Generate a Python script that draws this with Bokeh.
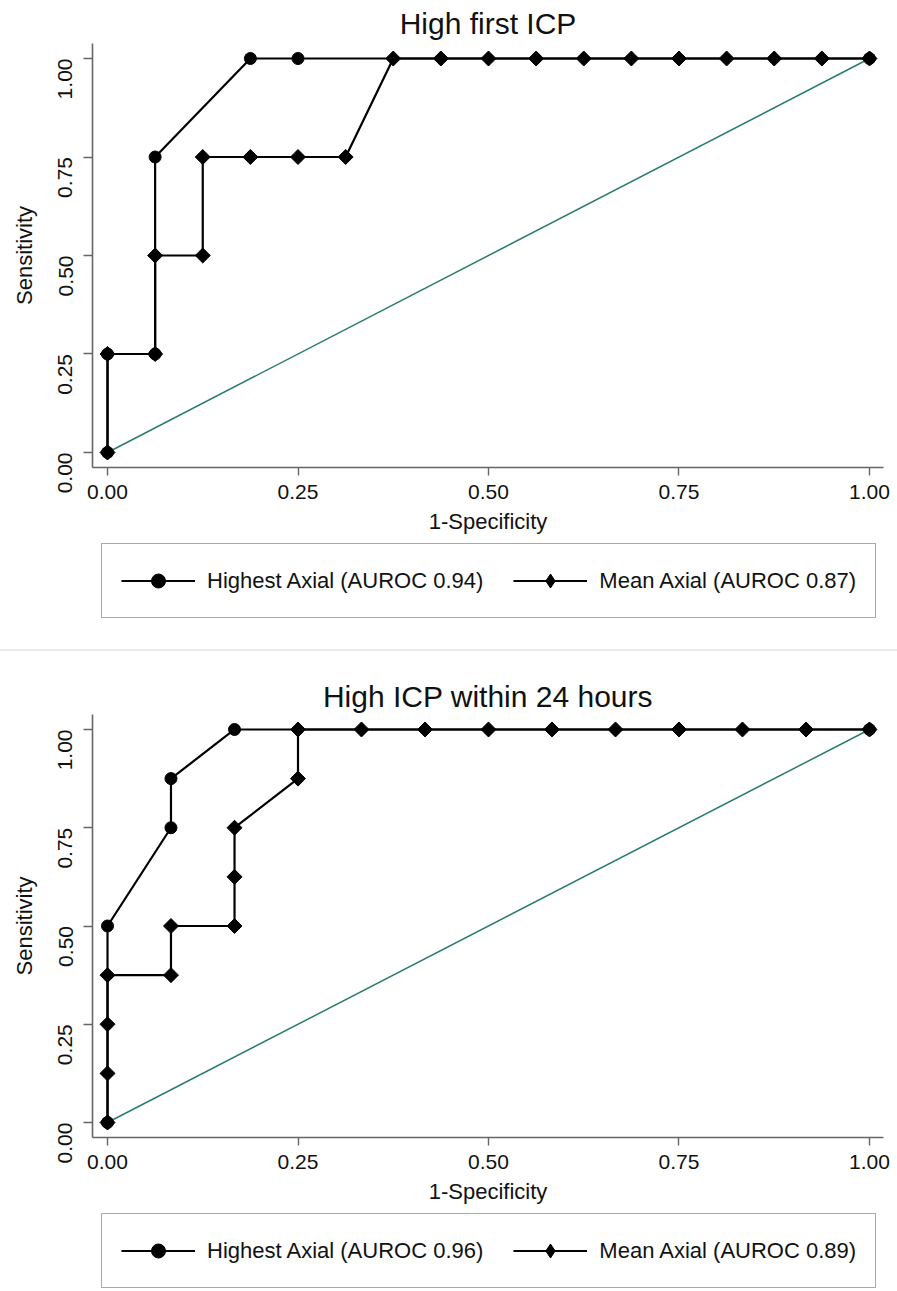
import math
from bokeh.plotting import figure
from bokeh.models import Range1d, FixedTicker, Legend, LegendItem, Div
from bokeh.layouts import column
from bokeh.embed import file_html
from bokeh.resources import INLINE

# ---------------- data ----------------
tick_vals = [0.0, 0.25, 0.5, 0.75, 1.0]
tick_labels = ["0.00", "0.25", "0.50", "0.75", "1.00"]

ref_x = [0.0, 1.0]
ref_y = [0.0, 1.0]

# Panel 1: High first ICP
p1_title = "High first ICP"
p1_high_label = "Highest Axial (AUROC 0.94)"
p1_mean_label = "Mean Axial (AUROC 0.87)"
p1_high_x = [0.0, 0.0, 0.0625, 0.0625, 0.1875, 0.25, 1.0]
p1_high_y = [0.0, 0.25, 0.25, 0.75, 1.0, 1.0, 1.0]
p1_mean_x = [0.0, 0.0, 0.0625, 0.0625, 0.125, 0.125, 0.1875, 0.25, 0.3125, 0.375,
             0.4375, 0.5, 0.5625, 0.625, 0.6875, 0.75, 0.8125, 0.875, 0.9375, 1.0]
p1_mean_y = [0.0, 0.25, 0.25, 0.5, 0.5, 0.75, 0.75, 0.75, 0.75, 1.0,
             1.0, 1.0, 1.0, 1.0, 1.0, 1.0, 1.0, 1.0, 1.0, 1.0]

# Panel 2: High ICP within 24 hours
p2_title = "High ICP within 24 hours"
p2_high_label = "Highest Axial (AUROC 0.96)"
p2_mean_label = "Mean Axial (AUROC 0.89)"
p2_high_x = [0.0, 0.0, 0.0833, 0.0833, 0.1667, 1.0]
p2_high_y = [0.0, 0.5, 0.75, 0.875, 1.0, 1.0]
p2_mean_x = [0.0, 0.0, 0.0, 0.0, 0.0833, 0.0833, 0.1667, 0.1667, 0.1667, 0.25,
             0.25, 0.3333, 0.4167, 0.5, 0.5833, 0.6667, 0.75, 0.8333, 0.9167, 1.0]
p2_mean_y = [0.0, 0.125, 0.25, 0.375, 0.375, 0.5, 0.5, 0.625, 0.75, 0.875,
             1.0, 1.0, 1.0, 1.0, 1.0, 1.0, 1.0, 1.0, 1.0, 1.0]

FONT = "Liberation Sans"
AXIS_COLOR = "#666666"
TEAL = "#2a7b6f"
W = 897
FRAME_H = 424


def make_panel(title, hx, hy, mx, my, height, top_border, title_standoff):
    p = figure(width=W, height=height, output_backend="svg", toolbar_location=None,
               x_range=Range1d(-0.0197, 1.0184), y_range=Range1d(-0.0381, 1.0381),
               min_border_left=92, min_border_right=14, min_border_top=top_border,
               min_border_bottom=height - top_border - FRAME_H)
    p.outline_line_color = None
    p.grid.visible = False
    p.background_fill_color = "white"
    p.border_fill_color = "white"

    p.title.text = title
    p.title.align = "center"
    p.title.text_font = FONT
    p.title.text_font_size = "30px"
    p.title.text_font_style = "normal"
    p.title.text_color = "#111111"
    p.title.standoff = title_standoff

    for ax in (p.xaxis[0], p.yaxis[0]):
        ax.ticker = FixedTicker(ticks=tick_vals)
        ax.major_label_overrides = dict(zip(tick_vals, tick_labels))
        ax.axis_line_color = AXIS_COLOR
        ax.axis_line_width = 1.6
        ax.major_tick_line_color = AXIS_COLOR
        ax.major_tick_line_width = 1.4
        ax.major_tick_in = 0
        ax.minor_tick_line_color = None
        ax.major_label_text_font = FONT
        ax.major_label_text_font_size = "21px"
        ax.major_label_text_color = "#111111"
        ax.axis_label_text_font = FONT
        ax.axis_label_text_font_size = "22px"
        ax.axis_label_text_font_style = "normal"
        ax.axis_label_text_color = "#111111"

    p.xaxis.axis_label = "1-Specificity"
    p.xaxis.major_tick_out = 8
    p.xaxis.major_label_standoff = 9
    p.xaxis.axis_label_standoff = 7
    p.yaxis.axis_label = "Sensitivity"
    p.yaxis.major_tick_out = 9
    p.yaxis.major_label_orientation = math.pi / 2
    p.yaxis.major_label_standoff = 18
    p.yaxis.axis_label_standoff = 12

    # reference diagonal
    p.line(ref_x, ref_y, line_color=TEAL, line_width=1.5)
    # Highest axial (circles)
    p.line(hx, hy, line_color="black", line_width=2.2)
    p.scatter(hx, hy, marker="circle", size=12, fill_color="black", line_color="black")
    # Mean axial (diamonds)
    p.line(mx, my, line_color="black", line_width=2.2)
    p.scatter(mx, my, marker="square", angle=math.pi / 4, size=10.6,
              fill_color="black", line_color="black")
    return p


def make_legend(hx, hy, mx, my, hlab, mlab, height, box_bottom):
    q = figure(width=W, height=height, output_backend="svg", toolbar_location=None,
               x_axis_type=None, y_axis_type=None,
               min_border_left=92, min_border_right=14, min_border_top=0, min_border_bottom=0)
    q.outline_line_color = None
    q.grid.visible = False
    q.background_fill_color = "white"
    q.border_fill_color = "white"
    hl = q.line(hx, hy, line_color="black", line_width=2, visible=False)
    hs = q.scatter(hx, hy, marker="circle", size=12, fill_color="black",
                   line_color="black", visible=False)
    ml = q.line(mx, my, line_color="black", line_width=2, visible=False)
    md = q.scatter(mx, my, marker="diamond", size=14, fill_color="black",
                   line_color="black", visible=False)
    legend = Legend(items=[LegendItem(label=hlab, renderers=[hl, hs]),
                           LegendItem(label=mlab, renderers=[ml, md])],
                    orientation="horizontal", location=(9, box_bottom))
    legend.label_text_font = FONT
    legend.label_text_font_size = "22px"
    legend.label_text_color = "#111111"
    legend.glyph_width = 74
    legend.glyph_height = 35
    legend.label_standoff = 12
    legend.spacing = 30
    legend.padding = 19
    legend.margin = 0
    legend.border_line_color = "#555555"
    legend.border_line_width = 1.6
    legend.background_fill_color = "white"
    legend.background_fill_alpha = 1.0
    q.add_layout(legend, "center")
    return q


top = make_panel(p1_title, p1_high_x, p1_high_y, p1_mean_x, p1_mean_y,
                 height=536, top_border=43, title_standoff=7)
top_leg = make_legend(p1_high_x, p1_high_y, p1_mean_x, p1_mean_y,
                      p1_high_label, p1_mean_label, height=113, box_bottom=31)
sep = Div(text="", width=W, height=2, margin=0, styles={"background-color": "#e6ecef"})
bottom = make_panel(p2_title, p2_high_x, p2_high_y, p2_mean_x, p2_mean_y,
                    height=555, top_border=63, title_standoff=4)
bottom_leg = make_legend(p2_high_x, p2_high_y, p2_mean_x, p2_mean_y,
                         p2_high_label, p2_mean_label, height=84, box_bottom=2)

layout = column(top, top_leg, sep, bottom, bottom_leg, spacing=0)
open("out.html", "w").write(file_html(layout, INLINE))
